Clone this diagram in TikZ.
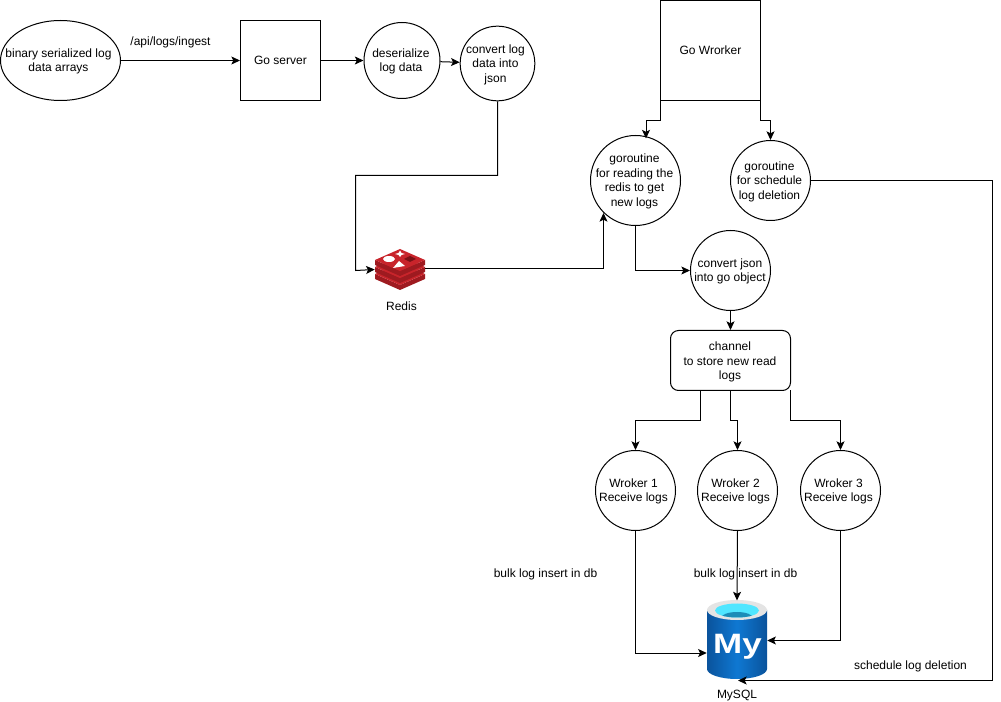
\documentclass[tikz,border=0pt]{standalone}
\usepackage{fontspec}
\setmainfont{Liberation Sans}
\usetikzlibrary{shapes.geometric,arrows.meta,positioning}
\definecolor{redistop}{HTML}{C8242B}
\definecolor{redisside}{HTML}{9E1A20}
\definecolor{redisdark}{HTML}{7A1216}
\definecolor{mysqlrim}{HTML}{E4E4E4}
\definecolor{mysqlblue}{HTML}{0F78D2}
\definecolor{mysqldark}{HTML}{0A539C}
\definecolor{mysqlcyan}{HTML}{50E6FF}
\definecolor{mysqlpool}{HTML}{1C8DB8}
\tikzset{
  conn/.style={draw=black,line width=0.75pt,-{Stealth[length=6.5pt,width=6pt,inset=1.5pt]}},
  logtext/.style={align=center,inner sep=0pt},
  intext/.style={logtext,yshift=-0.75pt,xshift=#1},
  intext/.default=-0.75pt,
  logcircle/.style={circle,draw,line width=0.75pt,inner sep=0pt,minimum size=60pt},
  logbox/.style={rectangle,draw,line width=0.75pt,inner sep=0pt,minimum size=60pt,align=center},
}
\begin{document}
\begin{tikzpicture}[x=0.75pt,y=-0.75pt,font=\fontsize{9}{10.9}\selectfont]
\useasboundingbox (0,0) rectangle (1001,702);
% nodes of the ingest path
\node[ellipse,draw,line width=0.75pt,inner sep=0pt,minimum width=90pt,minimum height=60pt,
  label={[intext=-1.5pt]center:binary serialized log\\data arrays}] (ingest) at (60.5,60.5) {};
\node[logbox] (server) at (280.5,60.5) {Go server};
\node[logcircle,minimum size=57pt,label={[intext]center:deserialize\\log data}] (deser) at (402,60.5) {};
\node[logcircle,minimum size=56pt,label={[intext=-1.5pt]center:convert log\\data into\\json}] (tojson) at (497.5,63.5) {};
% redis icon
\node[minimum width=37.5pt,minimum height=31pt,inner sep=0pt] (redis) at (400,269.5) {};
\foreach \o in {14,7,0}
{
\fill[redisside] (375,260+\o) -- (400,271+\o) -- (425,260+\o) -- (425,265+\o) -- (400,276+\o) -- (375,265+\o) -- cycle;
\fill[redistop] (375,260+\o) -- (400,249+\o) -- (425,260+\o) -- (400,271+\o) -- cycle;
}
\fill[white] (389,259) ellipse (6 and 3);
\fill[white] (400,250.5) -- (401.5,253) -- (405,254) -- (401.5,255) -- (400,257) -- (398.5,255) -- (395,254) -- (398.5,253) -- cycle;
\fill[white] (393,268) -- (399,261) -- (405,266) -- cycle;
\fill[redisdark] (404,259) -- (410,256) -- (416,259) -- (410,262) -- cycle;
\node[logtext] (redislabel) at (401.5,306) {Redis};
% nodes of the worker part
\node[logbox,minimum width=75pt,minimum height=75pt] (gowork) at (710.5,50.5) {Go Wrorker};
\node[logcircle,minimum size=67.5pt,label={[intext]center:goroutine\\for reading the\\redis to get\\new logs}] (goread) at (635.5,180.5) {};
\node[logcircle,label={[intext]center:goroutine\\for schedule\\log deletion}] (gosched) at (770.5,180.5) {};
\node[logcircle,label={[intext=-0.4pt]center:convert json\\into go object}] (toobj) at (730.5,270.5) {};
\node[logbox,rounded corners=6pt,minimum width=90pt,minimum height=45pt] (channel) at (730.5,360.5) {};
\node[logtext] (channeltext) at (730,362.3) {channel\\to store new read\\logs};
\node[logcircle,label={[intext=-1.5pt]center:Wroker 1\\Receive logs}] (worker1) at (635.5,490.5) {};
\node[logcircle,label={[intext=-1.5pt]center:Wroker 2\\Receive logs}] (worker2) at (737.5,490.5) {};
\node[logcircle,label={[intext=-1.5pt]center:Wroker 3\\Receive logs}] (worker3) at (840.5,490.5) {};
% mysql icon
\node[minimum width=45pt,minimum height=59pt,inner sep=0pt] (mysql) at (737,640) {};
\shade[left color=mysqldark,right color=mysqldark,middle color=mysqlblue] (707,610) -- (707,669) arc[start angle=180,end angle=360,x radius=30,y radius=-10] -- (767,610) -- cycle;
\fill[mysqlrim] (737,610) ellipse (30 and 10);
\fill[mysqlcyan] (737,610.5) ellipse (22 and 7);
\begin{scope}
\clip (737,610.5) ellipse (22 and 7);
\fill[mysqlpool] (737,618) ellipse (16 and 6);
\end{scope}
\node[text=white,inner sep=0pt,anchor=base,transform shape,xscale=1.25,font=\bfseries\fontsize{21}{21}\selectfont] (mysqllogo) at (737.5,653) {My};
\node[logtext] (mysqllabel) at (737,695.5) {MySQL};
% bend points
\coordinate (a1) at (497.5,175.5);
\coordinate (a2) at (355.5,175.5);
\coordinate (a3) at (355.5,270.5);
\coordinate (b1) at (603.5,268.5);
\coordinate (b2) at (603.5,213);
\coordinate (c1) at (635.5,270.5);
\coordinate (d1) at (660.5,120.5);
\coordinate (d2) at (646,120.5);
\coordinate (d3) at (646,138.5);
\coordinate (e1) at (760.5,120.5);
\coordinate (e2) at (770.5,120.5);
\coordinate (f1) at (992,180.5);
\coordinate (f2) at (992,680.5);
\coordinate (f3) at (738,680.5);
\coordinate (g1) at (700.5,420.5);
\coordinate (g2) at (635.5,420.5);
\coordinate (g3) at (730.5,420.5);
\coordinate (g4) at (737.5,420.5);
\coordinate (g5) at (790.5,420.5);
\coordinate (g6) at (840.5,420.5);
\coordinate (h1) at (635.5,653);
\coordinate (h2) at (840.5,640.5);
\coordinate (s1) at (700.5,390.5);
\coordinate (s2) at (790.5,390.5);
\coordinate (u1) at (660.5,100.5);
\coordinate (u2) at (760.5,100.5);
% connectors
\draw[conn] (ingest) -- (server);
\draw[conn] (server) -- (deser);
\draw[conn] (deser) -- (tojson);
\draw[conn] (tojson.south) -- (a1) -- (a2) -- (a3) -- (redis.west);
\draw[conn] (redis.east |- b1) -- (b1) -- (b2);
\draw[conn] (goread.south) -- (c1) -- (toobj.west);
\draw[conn] (u1) -- (d1) -- (d2) -- (d3);
\draw[conn] (u2) -- (e1) -- (e2) -- (gosched.north);
\draw[conn] (gosched.east) -- (f1) -- (f2) -- (f3);
\draw[conn] (toobj.south) -- (channel.north);
\draw[conn] (s1) -- (g1) -- (g2) -- (worker1.north);
\draw[conn] (channel.south) -- (g3) -- (g4) -- (worker2.north);
\draw[conn] (s2) -- (g5) -- (g6) -- (worker3.north);
\draw[conn] (worker1.south) -- (h1) -- (mysql.west |- h1);
\draw[conn] (worker2.south) -- (mysql.north);
\draw[conn] (worker3.south) -- (h2) -- (mysql.east |- h2);
% labels
\node[logtext] (apilabel) at (170.5,42.5) {/api/logs/ingest};
\node[logtext] (bulkone) at (545.5,574.5) {bulk log insert in db};
\node[logtext] (bulktwo) at (745.5,574.5) {bulk log insert in db};
\node[logtext] (schedlabel) at (910.5,666.5) {schedule log deletion};
\end{tikzpicture}
\end{document}
